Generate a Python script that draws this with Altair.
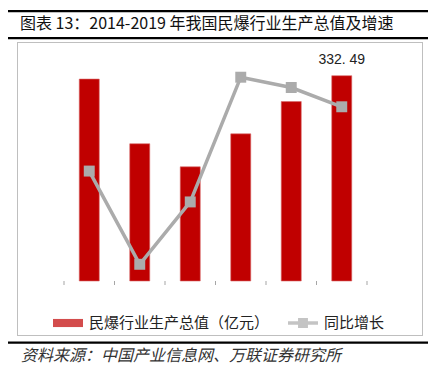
import altair as alt
import pandas as pd

years = ["2014", "2015", "2016", "2017", "2018", "2019"]
output_value = [329.5, 272.0, 251.5, 280.8, 309.5, 332.49]   # 亿元
growth = [-0.029, -0.174, -0.077, 0.117, 0.101, 0.071]       # 同比增长

bar_name = "民爆行业生产总值（亿元）"
line_name = "同比增长"
title_text = "图表 13：2014-2019 年我国民爆行业生产总值及增速"
source_text = "资料来源：中国产业信息网、万联证券研究所"

df = pd.DataFrame({"year": years, "value": output_value, "growth": growth})
df["label"] = ["", "", "", "", "", "332. 49"]

RED = "#C00000"
GREY = "#ABABAB"
AXIS = "#A6A6A6"
NUM_FONT = "Liberation Sans"
CJK_FONT = "Noto Sans CJK SC"

W, H = 303, 225

base = alt.Chart(df)

xenc = alt.X("year:N", axis=alt.Axis(title=None, ticks=False, tickSize=0, labelPadding=13,
                                     labelFontSize=13, labelFont=NUM_FONT, labelColor="#222",
                                     domainColor=AXIS, labelAngle=0),
             scale=alt.Scale(paddingInner=0, paddingOuter=0))

bars = base.mark_bar(size=20, color=RED, stroke="#D86A6A", strokeWidth=0.6).encode(
    x=xenc,
    y=alt.Y("value:Q", scale=alt.Scale(domain=[150, 350], nice=False, zero=False),
            axis=alt.Axis(title=None, orient="left", values=[150, 200, 250, 300, 350],
                          grid=False, tickSize=4, labelPadding=8, tickColor=AXIS,
                          domainColor=AXIS, labelFontSize=13, labelFont=NUM_FONT,
                          labelColor="#222")),
    y2=alt.datum(150),
)

label = base.mark_text(fontSize=14, font=NUM_FONT, color="#222", baseline="bottom", dy=-9).encode(
    x=xenc, y="value:Q", text="label:N"
)

line = base.mark_line(color=GREY, strokeWidth=3.5,
                      point=alt.OverlayMarkDef(shape="square", size=120, filled=True,
                                               color=GREY, opacity=1)).encode(
    x=xenc,
    y=alt.Y("growth:Q", scale=alt.Scale(domain=[-0.20, 0.15], nice=False),
            axis=alt.Axis(title=None, orient="right", format=".0%",
                          values=[-0.20, -0.15, -0.10, -0.05, 0, 0.05, 0.10, 0.15],
                          grid=False, tickSize=4, labelPadding=7, tickColor=AXIS,
                          domainColor=AXIS, labelFontSize=13, labelFont=NUM_FONT,
                          labelColor="#222")),
)

main = alt.layer(alt.layer(bars, label), line).resolve_scale(y="independent")

# x-axis tick marks at category boundaries
xticks = base.mark_tick(orient="vertical", size=4, thickness=1, color=AXIS, opacity=1).encode(
    x=alt.X("year:N", bandPosition=0), y=alt.value(H + 2)
)
xticks_end = base.transform_filter(alt.datum.year == years[-1]).mark_tick(
    orient="vertical", size=4, thickness=1, color=AXIS, opacity=1).encode(
    x=alt.X("year:N", bandPosition=1), y=alt.value(H + 2)
)

# legend from an off-canvas helper layer
legend_df = pd.DataFrame({"series": [bar_name, line_name]})
rect_path = "M-1,-0.27H1V0.27H-1Z"
line_path = ("M-1,-0.12H-0.33V-0.33H0.33V-0.12H1V0.12H0.33V0.33H-0.33V0.12H-1Z")
leg = alt.Legend(title=None, orient="none", direction="horizontal",
                 legendX=-11, legendY=252, symbolSize=900,
                 symbolStrokeWidth=0, labelFontSize=15, labelFont=CJK_FONT,
                 labelColor="#222", labelLimit=400, labelOffset=6,
                 columnPadding=18, padding=0)
legend_layer = alt.Chart(legend_df).mark_point(filled=True, size=10).encode(
    x=alt.value(-2000), y=alt.value(-2000),
    color=alt.Color("series:N", scale=alt.Scale(domain=[bar_name, line_name], range=[RED, GREY]),
                    legend=leg),
    shape=alt.Shape("series:N", scale=alt.Scale(domain=[bar_name, line_name],
                                                range=[rect_path, line_path]),
                    legend=leg),
)

OX, OY = 64, 56  # plot origin in page pixels

def band(name, x1, x2, y1, y2, color):
    d = alt.Data(values=[{"k": name}])
    return alt.Chart(d).mark_rect(color=color, opacity=1).encode(
        x=alt.value(x1 - OX), x2=alt.value(x2 - OX),
        y=alt.value(y1 - OY), y2=alt.value(y2 - OY))

page_bg = band("bg", 0, 428, 0, 377, "#FFFFFF")
top_line = band("t", 8, 428, 10, 12.2, "#000000")
title_line = band("m", 8, 428, 37, 39.2, "#000000")
bottom_line = band("b", 8, 428, 341.5, 343.7, "#000000")
frame_top = band("f1", 17, 423, 42, 43, "#BFBFBF")
frame_bottom = band("f2", 17, 423, 335, 336, "#BFBFBF")
frame_left = band("f3", 17, 18, 42, 336, "#BFBFBF")
frame_right = band("f4", 422, 423, 42, 336, "#BFBFBF")

title_mark = alt.Chart(pd.DataFrame({"t": [title_text]})).mark_text(
    align="left", baseline="middle", fontSize=16, font=CJK_FONT, color="#111").encode(
    x=alt.value(20 - OX), y=alt.value(24 - OY), text="t:N")

source_mark = alt.Chart(pd.DataFrame({"s": [source_text]})).mark_text(
    align="left", baseline="middle", fontSize=16, font=CJK_FONT, fontStyle="italic",
    color="#333").encode(
    x=alt.value(21 - OX), y=alt.value(356 - OY), text="s:N")

chart = alt.layer(
    page_bg, main, xticks, xticks_end, legend_layer,
    frame_top, frame_bottom, frame_left, frame_right,
    top_line, title_line, bottom_line, title_mark, source_mark
).properties(
    width=W, height=H,
    autosize=alt.AutoSizeParams(type="none"),
    padding={"left": OX, "top": OY, "right": 428 - OX - W, "bottom": 377 - OY - H},
    background="transparent",
).configure_view(stroke=None)

chart.save("out.html", embed_options={"renderer": "svg", "actions": False})
